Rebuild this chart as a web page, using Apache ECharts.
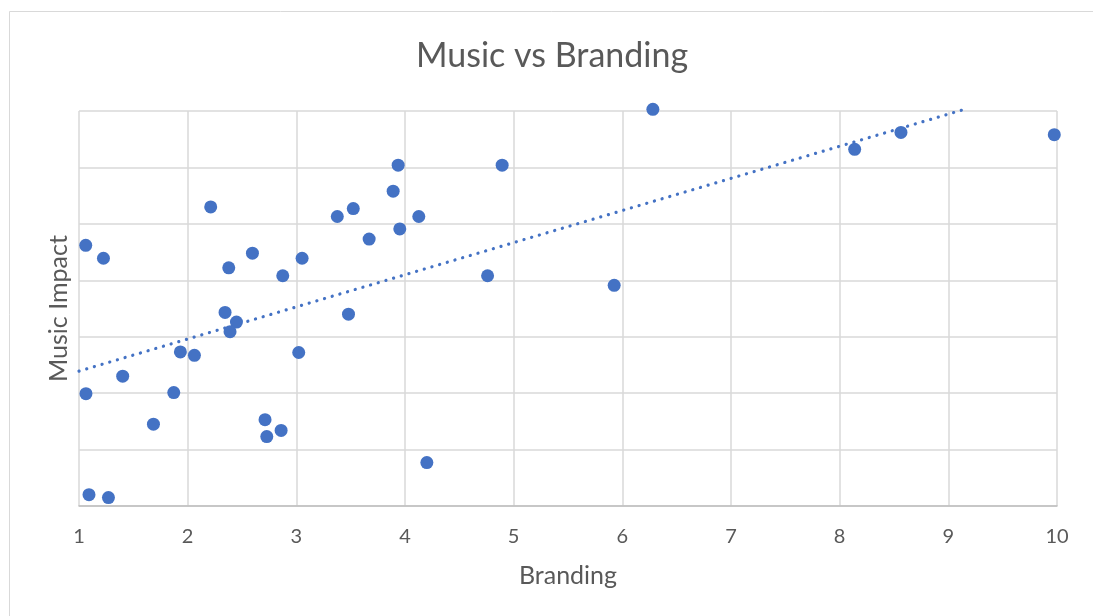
<!DOCTYPE html>
<html>
<head>
<meta charset="utf-8">
<title>Music vs Branding</title>
<script src="https://cdn.jsdelivr.net/npm/echarts@6/dist/echarts.min.js"></script>
<style>
  html, body { margin: 0; padding: 0; background: #ffffff; }
  #chart { width: 1093px; height: 616px; }
</style>
</head>
<body>
<div id="chart"></div>
<script>
// Branding score of each respondent (x)
const branding = [
  1.062, 1.225, 2.212, 2.378, 2.596, 2.875, 3.053, 3.377, 3.524, 2.344,
  2.449, 2.390, 3.480, 1.933, 2.062, 3.022, 1.402, 1.064, 1.872, 1.685,
  2.712, 2.860, 2.728, 1.092, 1.271, 3.937, 4.894, 3.891, 4.127, 3.952,
  3.670, 4.760, 4.201, 6.281, 5.925, 8.564, 8.138, 9.975
];
// Music impact score of the same respondents (y)
const musicImpact = [
  4.62, 4.39, 5.30, 4.22, 4.48, 4.08, 4.39, 5.13, 5.27, 3.43,
  3.26, 3.09, 3.40, 2.73, 2.67, 2.72, 2.30, 1.99, 2.01, 1.45,
  1.53, 1.34, 1.23, 0.20, 0.15, 6.04, 6.04, 5.58, 5.13, 4.91,
  4.73, 4.08, 0.77, 7.03, 3.91, 6.62, 6.32, 6.58
];
// Linear trendline end points [branding, music impact]
const trendline = [[1, 2.39], [9.15, 7.03]];
// Axis ranges
const xTicks = { min: 1, max: 10, step: 1 };
const yTicks = { min: 0, max: 7, step: 1 };

const points = branding.map((b, i) => [b, musicImpact[i]]);

const FONT = 'Lato';
const TEXT = '#595959';
const BLUE = '#4472C4';

const chart = echarts.init(document.getElementById('chart'), null, { renderer: 'canvas' });
chart.setOption({
  animation: false,
  backgroundColor: '#ffffff',
  title: {
    text: 'Music vs Branding',
    left: 411,
    top: 34,
    textStyle: { fontFamily: FONT, fontSize: 34, fontWeight: 'normal', color: TEXT }
  },
  graphic: [{
    type: 'rect',
    shape: { x: 9.5, y: 11.5, width: 1100, height: 620 },
    style: { fill: 'none', stroke: '#d9d9d9', lineWidth: 1 },
    silent: true
  }],
  grid: { left: 79, right: 36, top: 111, bottom: 110, containLabel: false },
  xAxis: {
    type: 'value',
    min: xTicks.min, max: xTicks.max, interval: xTicks.step,
    name: 'Branding',
    nameLocation: 'middle',
    nameGap: 57,
    nameTextStyle: { fontFamily: FONT, fontSize: 25, color: TEXT },
    axisLine: { show: true, lineStyle: { color: '#bfbfbf', width: 1.5 } },
    axisTick: { show: false },
    axisLabel: { fontFamily: FONT, fontSize: 20, color: TEXT, margin: 21 },
    splitLine: { show: true, lineStyle: { color: '#d9d9d9', width: 1.5 } }
  },
  yAxis: {
    type: 'value',
    min: yTicks.min, max: yTicks.max, interval: yTicks.step,
    name: 'Music Impact',
    nameLocation: 'middle',
    nameGap: 8,
    nameTextStyle: { fontFamily: FONT, fontSize: 25, color: TEXT },
    axisLine: { show: false },
    axisTick: { show: false },
    axisLabel: { show: false },
    splitLine: { show: true, lineStyle: { color: '#d9d9d9', width: 1.5 } }
  },
  series: [
    {
      type: 'line',
      data: trendline,
      showSymbol: false,
      symbol: 'none',
      clip: false,
      lineStyle: { color: BLUE, width: 3.2, type: [0.1, 7.9], cap: 'round' },
      z: 3
    },
    {
      type: 'scatter',
      data: points,
      symbol: 'circle',
      symbolSize: 13,
      clip: false,
      itemStyle: { color: BLUE, opacity: 1 },
      z: 4
    }
  ]
});
</script>
</body>
</html>
